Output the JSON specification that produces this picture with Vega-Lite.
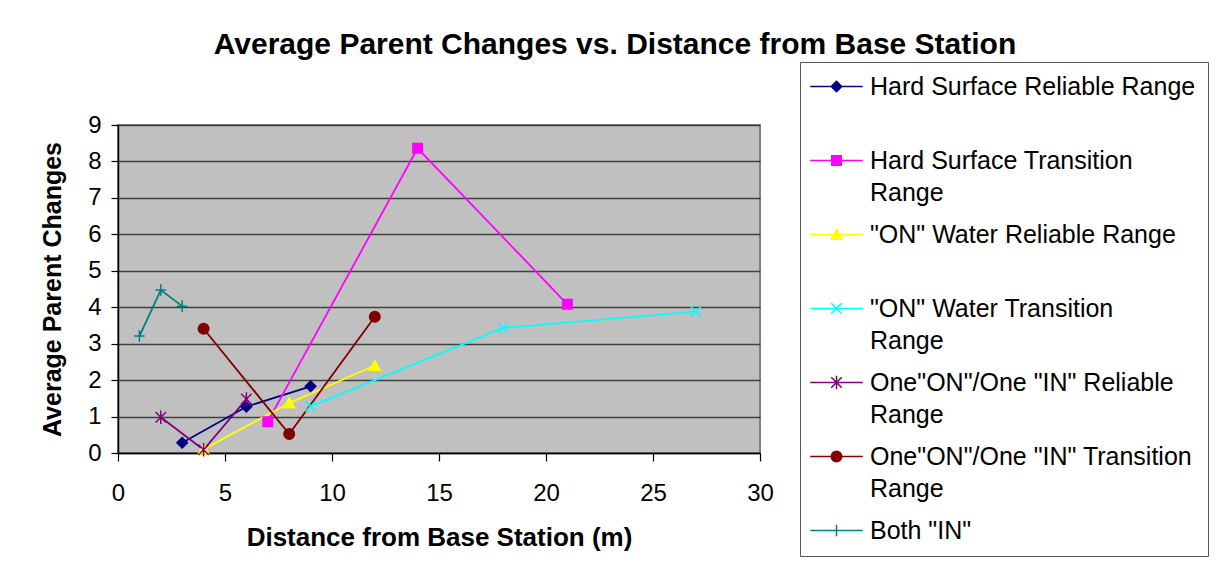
{
  "$schema": "https://vega.github.io/schema/vega-lite/v6.json",
  "width": 642,
  "height": 328,
  "autosize": {"type": "none"},
  "padding": {"left": 118, "top": 125, "right": 457, "bottom": 128},
  "background": "white",
  "title": {
    "text": "Average Parent Changes vs. Distance from Base Station",
    "font": "Liberation Sans",
    "fontSize": 30,
    "fontWeight": "bold",
    "color": "black",
    "anchor": "middle",
    "frame": "group",
    "dx": 176,
    "offset": -22,
    "baseline": "alphabetic"
  },
  "config": {
    "font": "Liberation Sans",
    "view": {"fill": "#C0C0C0", "stroke": "#808080", "strokeWidth": 2}
  },
  "data": {
    "values": [
      {"series": "Hard Surface Reliable Range", "x": 3, "y": 0.28},
      {"series": "Hard Surface Reliable Range", "x": 6, "y": 1.27},
      {"series": "Hard Surface Reliable Range", "x": 9, "y": 1.83},
      {"series": "Hard Surface Transition Range", "x": 7, "y": 0.86},
      {"series": "Hard Surface Transition Range", "x": 14, "y": 8.36},
      {"series": "Hard Surface Transition Range", "x": 21, "y": 4.08},
      {"series": "\"ON\" Water Reliable Range", "x": 4, "y": 0.1},
      {"series": "\"ON\" Water Reliable Range", "x": 8, "y": 1.37},
      {"series": "\"ON\" Water Reliable Range", "x": 12, "y": 2.4},
      {"series": "\"ON\" Water Transition Range", "x": 9, "y": 1.28},
      {"series": "\"ON\" Water Transition Range", "x": 18, "y": 3.43},
      {"series": "\"ON\" Water Transition Range", "x": 27, "y": 3.88},
      {"series": "One\"ON\"/One \"IN\" Reliable Range", "x": 2, "y": 0.98},
      {"series": "One\"ON\"/One \"IN\" Reliable Range", "x": 4, "y": 0.09},
      {"series": "One\"ON\"/One \"IN\" Reliable Range", "x": 6, "y": 1.48},
      {"series": "One\"ON\"/One \"IN\" Transition Range", "x": 4, "y": 3.41},
      {"series": "One\"ON\"/One \"IN\" Transition Range", "x": 8, "y": 0.52},
      {"series": "One\"ON\"/One \"IN\" Transition Range", "x": 12, "y": 3.74},
      {"series": "Both \"IN\"", "x": 1, "y": 3.21},
      {"series": "Both \"IN\"", "x": 2, "y": 4.47},
      {"series": "Both \"IN\"", "x": 3, "y": 4.03}
    ]
  },
  "encoding": {
    "x": {
      "field": "x",
      "type": "quantitative",
      "scale": {"domain": [0, 30], "nice": false, "zero": false},
      "axis": {
        "values": [0, 5, 10, 15, 20, 25, 30],
        "title": "Distance from Base Station (m)",
        "titleFont": "Liberation Sans",
        "titleFontSize": 26,
        "titleFontWeight": "bold",
        "titleColor": "black",
        "titlePadding": 19,
        "labelFont": "Liberation Sans",
        "labelFontSize": 24,
        "labelColor": "black",
        "labelPadding": 20,
        "labelFlush": false,
        "tickSize": 8,
        "tickColor": "black",
        "tickWidth": 1.2,
        "domainColor": "black",
        "domainWidth": 1.5,
        "grid": false
      }
    },
    "y": {
      "field": "y",
      "type": "quantitative",
      "scale": {"domain": [0, 9], "nice": false},
      "axis": {
        "values": [0, 1, 2, 3, 4, 5, 6, 7, 8, 9],
        "title": "Average Parent Changes",
        "titleFont": "Liberation Sans",
        "titleFontSize": 25,
        "titleFontWeight": "bold",
        "titleColor": "black",
        "titlePadding": 22,
        "labelFont": "Liberation Sans",
        "labelFontSize": 24,
        "labelColor": "black",
        "labelPadding": 10,
        "labelFlush": false,
        "tickSize": 7,
        "tickColor": "black",
        "tickWidth": 1.2,
        "domainColor": "black",
        "domainWidth": 1.5,
        "grid": true,
        "gridColor": "#404040",
        "gridWidth": 1.5
      }
    },
    "color": {
      "field": "series",
      "type": "nominal",
      "scale": {
        "domain": ["Hard Surface Reliable Range", "Hard Surface Transition Range", "\"ON\" Water Reliable Range", "\"ON\" Water Transition Range", "One\"ON\"/One \"IN\" Reliable Range", "One\"ON\"/One \"IN\" Transition Range", "Both \"IN\""],
        "range": ["#000080", "#FF00FF", "#FFFF00", "#00FFFF", "#800080", "#800000", "#008080"]
      },
      "legend": {
        "orient": "none",
        "legendX": 682,
        "legendY": -63,
        "title": null,
        "direction": "vertical",
        "columns": 1,
        "strokeColor": "#555555",
        "fillColor": "white",
        "padding": 12,
        "labelFont": "Liberation Sans",
        "labelFontSize": 25,
        "labelColor": "black",
        "labelLimit": 500,
        "labelOffset": 21,
        "symbolOffset": 12,
        "symbolSize": 110,
        "symbolStrokeWidth": 1.5,
        "rowPadding": 16,
        "gridAlign": "all",
        "labelExpr": "test(/Transition|One/, datum.label) ? [replace(datum.label, / Range$/, ''), 'Range'] : datum.label",
        "encode": {
          "symbols": {
            "update": {
              "shape": {"signal": "'M-5,0L5,0' + scale('shape', datum.value)"},
              "fill": {"signal": "scale('color', datum.value)"},
              "stroke": {"signal": "scale('color', datum.value)"},
              "opacity": {"value": 1}
            }
          },
          "labels": {"update": {"lineHeight": {"value": 32}}}
        }
      }
    }
  },
  "layer": [
    {"mark": {"type": "line", "strokeWidth": 1.8}},
    {
      "mark": {"type": "point", "filled": true, "size": 110, "opacity": 1, "strokeWidth": 1.5},
      "encoding": {
        "shape": {
          "field": "series",
          "type": "nominal",
          "scale": {
            "domain": ["Both \"IN\"", "One\"ON\"/One \"IN\" Transition Range", "One\"ON\"/One \"IN\" Reliable Range", "\"ON\" Water Transition Range", "\"ON\" Water Reliable Range", "Hard Surface Transition Range", "Hard Surface Reliable Range"],
            "range": ["M-1,0H1M0,-1.1V1.1", "M1,0A1,1,0,1,1,-1,0A1,1,0,1,1,1,0Z", "M-1,-1L1,1M-1,1L1,-1M0,-1.3V1.3", "M-1,-1L1,1M-1,1L1,-1", "M0,-1L1,0.9H-1Z", "M-0.9,-0.9H0.9V0.9H-0.9Z", "M0,-1L1,0L0,1L-1,0Z"]
          },
          "legend": null
        },
        "stroke": {
          "field": "series",
          "type": "nominal",
          "scale": {
            "domain": ["Both \"IN\"", "One\"ON\"/One \"IN\" Transition Range", "One\"ON\"/One \"IN\" Reliable Range", "\"ON\" Water Transition Range", "\"ON\" Water Reliable Range", "Hard Surface Transition Range", "Hard Surface Reliable Range"],
            "range": ["#008080", "#800000", "#800080", "#00FFFF", "#FFFF00", "#FF00FF", "#000080"]
          },
          "legend": null
        }
      }
    }
  ]
}
